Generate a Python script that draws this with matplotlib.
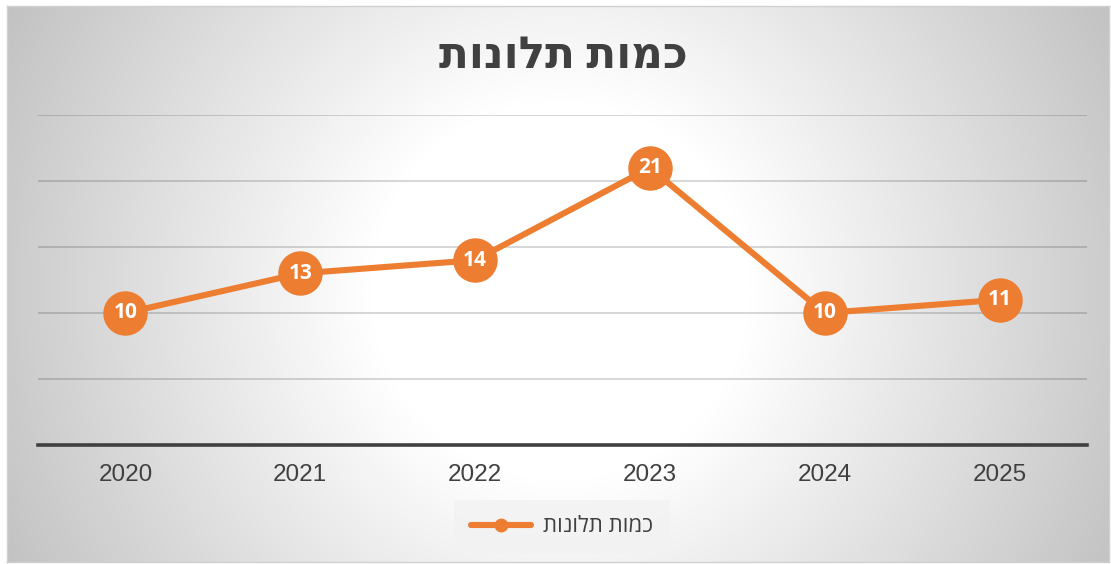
import numpy as np
import matplotlib
matplotlib.use("Agg")
import matplotlib.pyplot as plt
from matplotlib.lines import Line2D

years = ["2020", "2021", "2022", "2023", "2024", "2025"]
complaints = [10, 13, 14, 21, 10, 11]
title_text = "כמות תלונות"
series_name = "כמות תלונות"
y_ticks = [0, 5, 10, 15, 20, 25]

def vis(s):
    # matplotlib has no bidi support: reverse Hebrew for visual order
    return s[::-1]

W, H = 1111, 564
fig = plt.figure(figsize=(W / 100, H / 100), dpi=100)
fig.patch.set_facecolor("white")

# chart area background with radial gradient
x0, x1, y0, y1 = 7, 1109, 6, 562
bg = fig.add_axes([x0 / W, 1 - y1 / H, (x1 - x0) / W, (y1 - y0) / H])
xx, yy = np.meshgrid(np.arange(x0, x1), np.arange(y0, y1))
r = np.sqrt((xx - 560) ** 2 + (yy - 290) ** 2)
v = 1 - 0.25 * np.clip((r - 190) / 450, 0, 1)
img = np.dstack([v, v, v])
bg.imshow(img, aspect="auto", extent=[0, 1, 0, 1], interpolation="bilinear")
bg.set_xlim(0, 1); bg.set_ylim(0, 1)
bg.set_xticks([]); bg.set_yticks([])
for s in bg.spines.values():
    s.set_edgecolor("#d0d0d0")
    s.set_linewidth(1)

# plot area
pl, pr, pb, pt = 38, 1087, 445, 115
ax = fig.add_axes([pl / W, 1 - pb / H, (pr - pl) / W, (pb - pt) / H])
ax.patch.set_alpha(0)
xs = np.arange(len(years))
ax.set_xlim(-0.5, len(years) - 0.5)
ax.set_ylim(0, 25)
for yv in y_ticks[1:]:
    ax.axhline(yv, color="black", alpha=0.17, lw=1.3, zorder=1)
ax.axhline(0, color="#404040", lw=2.6, zorder=2, clip_on=False)
for s in ax.spines.values():
    s.set_visible(False)
ax.set_yticks([])
ax.set_xticks(xs)
ax.set_xticklabels(years, fontsize=17.5, color="#404040", family="Liberation Sans")
ax.tick_params(axis="x", length=0, pad=14)

ax.plot(xs, complaints, color="#ED7D31", lw=4.4, solid_capstyle="round",
        solid_joinstyle="round", zorder=3, clip_on=False)
ax.plot(xs, complaints, "o", color="#ED7D31", markersize=32, markeredgewidth=0,
        zorder=4, clip_on=False)
for x, yv in zip(xs, complaints):
    ax.text(x, yv, str(yv), ha="center", va="center", color="white",
            fontsize=15, fontweight="bold", family=["Open Sans", "DejaVu Sans"], zorder=5)

fig.text(563 / W, 1 - 56 / H, vis(title_text), ha="center", va="center",
         fontsize=31.5, fontweight="bold", color="#404040",
         family=["Open Sans", "DejaVu Sans"])

handle = Line2D([0], [0], color="#ED7D31", lw=4.4, marker="o", markersize=9,
                solid_capstyle="round")
leg = fig.legend([handle], [vis(series_name)], loc="center",
                 bbox_to_anchor=(562 / W, 1 - 527 / H), frameon=True,
                 prop={"family": ["Open Sans", "DejaVu Sans"], "size": 16},
                 handlelength=2.7, borderpad=0.75, handletextpad=0.55,
                 borderaxespad=0, fancybox=False)
leg.get_frame().set_facecolor("#f2f2f2")
leg.get_frame().set_edgecolor("none")
leg.get_frame().set_alpha(0.8)
for t in leg.get_texts():
    t.set_color("#404040")

fig.savefig("out.png", dpi=100, facecolor="white")
